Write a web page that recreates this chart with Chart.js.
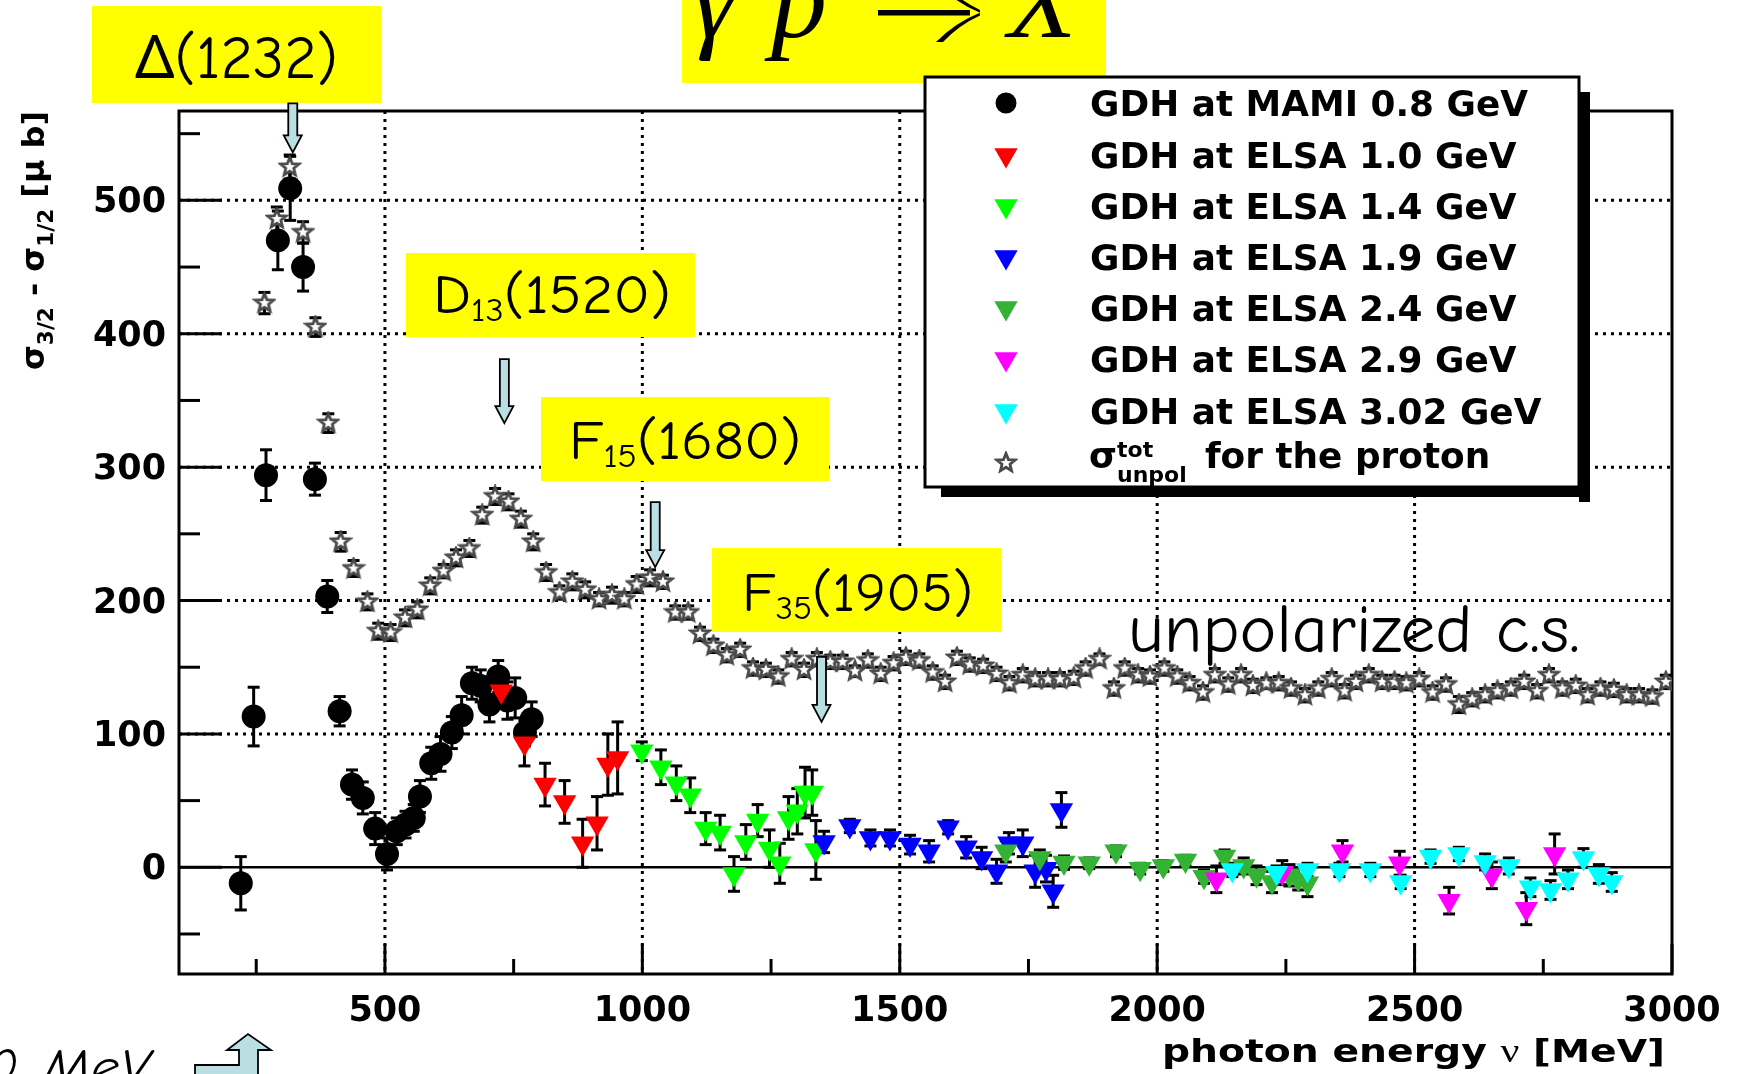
<!DOCTYPE html>
<html>
<head>
<meta charset="utf-8">
<script src="https://cdn.jsdelivr.net/npm/chart.js@4.4.1/dist/chart.umd.min.js"></script>
<style>
  html, body { margin: 0; padding: 0; background: #fff; }
  canvas { display: block; }
</style>
</head>
<body>
<canvas id="c" width="1740" height="1074"></canvas>
<script>
// ---- axis ticks ----
const xTickValues = [500, 1000, 1500, 2000, 2500, 3000];
const xMinorTicks = [250, 750, 1250, 1750, 2250, 2750];
const yTickValues = [0, 100, 200, 300, 400, 500];
const yMinorTicks = [-50, 50, 150, 250, 350, 450, 550];

// ---- GDH at MAMI 0.8 GeV : photon energy [MeV], sigma3/2 - sigma1/2 [mub], error ----
const mamiE   = [220, 245, 269, 292, 316, 341, 364, 388, 412, 436, 457, 481, 504, 523, 540, 556, 568, 590, 608, 630, 649, 669, 686, 703, 720, 738, 753, 772, 785];
const mamiV   = [-12, 113, 294, 470, 509, 450, 291, 203, 117, 62, 52, 29, 10, 27, 32, 37, 53, 78, 85, 101, 114, 138, 136, 122, 143, 125, 127, 101, 111];
const mamiErr = [20, 22, 19, 22, 24, 18, 12, 12, 11, 11, 12, 12, 12, 10, 10, 10, 12, 12, 13, 12, 14, 12, 12, 13, 12, 14, 15, 10, 13];

// ---- GDH at ELSA 1.0 GeV ----
const elsa10E   = [726, 771, 811, 849, 884, 912, 933, 952];
const elsa10V   = [132, 93, 62, 49, 18, 33, 77, 82];
const elsa10Err = [5, 17, 16, 16, 18, 20, 23, 27];

// ---- GDH at ELSA 1.4 GeV ----
const elsa14E   = [999, 1036, 1066, 1093, 1123, 1151, 1178, 1201, 1224, 1247, 1267, 1284, 1301, 1316, 1330, 1337];
const elsa14V   = [87, 75, 63, 54, 29, 26, -5, 19, 35, 14, 3, 37, 42, 56, 56, 13];
const elsa14Err = [7, 13, 13, 13, 12, 13, 13, 13, 12, 14, 15, 16, 17, 19, 17, 22];

// ---- GDH at ELSA 1.9 GeV ----
const elsa19E   = [1353, 1403, 1443, 1481, 1520, 1557, 1594, 1629, 1659, 1688, 1712, 1739, 1763, 1784, 1798, 1814];
const elsa19V   = [19, 31, 22, 22, 17, 12, 30, 15, 7, -3, 18, 18, -3, -1, -18, 43];
const elsa19Err = [8, 5, 6, 6, 7, 8, 5, 8, 8, 9, 8, 10, 12, 10, 12, 13];

// ---- GDH at ELSA 2.4 GeV ----
const elsa24E   = [1706, 1772, 1819, 1868, 1920, 1967, 2012, 2055, 2091, 2131, 2168, 2193, 2223, 2257, 2274, 2292];
const elsa24V   = [12, 7, 3.5, 3, 12, -1, 1, 5, -7, 8, 1, -6, -11, -6, -9, -12];
const elsa24Err = [8, 6, 5, 4, 4, 4, 4, 4, 5, 5, 6, 7, 8, 8, 8, 10];

// ---- GDH at ELSA 2.9 GeV ----
const elsa29E   = [2115, 2243, 2360, 2471, 2567, 2650, 2717, 2772];
const elsa29V   = [-9, -4, 12, 3, -25, -6, -31, 10];
const elsa29Err = [10, 9, 8, 9, 10, 10, 12, 15];

// ---- GDH at ELSA 3.02 GeV ----
const elsa302E   = [2146, 2232, 2292, 2354, 2414, 2473, 2531, 2586, 2637, 2683, 2725, 2764, 2798, 2828, 2858, 2883];
const elsa302V   = [-2, -4, -2, -2, -2, -11, 8, 10, 4, 1, -15, -17, -9, 7, -5, -11];
const elsa302Err = [5, 5, 5, 5, 5, 5, 5, 5, 6, 6, 7, 7, 7, 7, 7, 7];

// ---- total unpolarized photoabsorption cross section of the proton ----
const unpolE = [266, 290, 315, 341, 365, 390, 414, 439, 466, 487,
  511, 539, 563, 588, 614, 638, 664, 689, 714, 740,
  764, 788, 813, 839, 864, 889, 916, 941, 965, 989,
  1015, 1040, 1064, 1089, 1112, 1138, 1164, 1190, 1215, 1240,
  1264, 1290, 1314, 1339, 1365, 1389, 1413, 1438, 1463, 1488,
  1512, 1538, 1564, 1588, 1611, 1636, 1662, 1688, 1713, 1739,
  1763, 1788, 1811, 1838, 1861, 1888, 1916, 1937, 1963, 1986,
  2014, 2039, 2063, 2089, 2112, 2138, 2163, 2186, 2212, 2236,
  2260, 2287, 2313, 2339, 2364, 2386, 2411, 2437, 2461, 2484,
  2509, 2535, 2561, 2586, 2612, 2637, 2661, 2687, 2713, 2738,
  2761, 2787, 2813, 2836, 2861, 2887, 2912, 2936, 2962, 2988];
const unpolV = [423, 486, 525, 476, 405, 333, 244, 224, 199, 177,
  176, 187, 193, 211, 222, 232, 239, 264, 278, 274,
  261, 244, 221, 206, 214, 208, 201, 204, 201, 212,
  217, 214, 191, 191, 175, 166, 159, 163, 149, 148,
  143, 156, 148, 156, 154, 154, 147, 155, 145, 153,
  157, 155, 146, 139, 157, 152, 151, 145, 138, 144,
  141, 141, 141, 142, 149, 156, 134, 149, 144, 143,
  149, 143, 138, 131, 144, 137, 144, 136, 138, 138,
  134, 129, 134, 141, 132, 139, 144, 139, 139, 138,
  141, 131, 137, 122, 126, 129, 132, 134, 139, 132,
  144, 134, 136, 129, 134, 133, 129, 129, 128, 139];
const unpolErr = [8, 9, 9, 8, 7, 7, 7, 6, 6, 6,
  6, 6, 6, 6, 5, 6, 6, 6, 6, 6,
  6, 6, 6, 5, 6, 6, 5, 6, 5, 6,
  6, 5, 5, 5, 5, 5, 5, 5, 5, 5,
  5, 5, 5, 5, 5, 5, 4, 5, 5, 5,
  5, 5, 5, 5, 5, 5, 5, 5, 5, 5,
  5, 5, 5, 5, 5, 4, 5, 5, 5, 5,
  5, 5, 5, 5, 5, 5, 5, 5, 4, 5,
  5, 5, 5, 5, 5, 5, 5, 5, 5, 5,
  5, 5, 5, 6, 5, 5, 5, 5, 5, 5,
  5, 5, 5, 5, 5, 5, 5, 5, 5, 5];

// ---- resonance markers: energy of the arrow and value at its tip ----
const resonanceE   = [321, 732, 1025, 1348];
const resonanceTip = [536, 333, 225, 109];
const resonanceLen = [49, 64, 65, 65];

// open star used for the unpolarized cross section
function makeStar(size, outer, inner, stroke, lw) {
  const c = document.createElement('canvas');
  c.width = c.height = size;
  const g = c.getContext('2d');
  g.beginPath();
  for (let i = 0; i < 10; i++) {
    const r = i % 2 ? inner : outer;
    const a = -Math.PI / 2 + i * Math.PI / 5;
    g.lineTo(size / 2 + r * Math.cos(a), size / 2 + r * Math.sin(a));
  }
  g.closePath();
  g.fillStyle = '#fff';
  g.fill();
  g.strokeStyle = stroke;
  g.lineWidth = lw;
  g.stroke();
  return c;
}
const starImg = makeStar(24, 9.5, 4.2, '#4a4a4a', 2.8);

// drawing order: larger "order" is painted first (underneath)
const series = [
  { label: 'GDH at MAMI 0.8 GeV',  E: mamiE,    V: mamiV,    err: mamiErr,    color: '#000000', style: 'circle',   radius: 12,   rot: 0,   order: 9 },
  { label: 'GDH at ELSA 1.0 GeV',  E: elsa10E,  V: elsa10V,  err: elsa10Err,  color: '#ff0000', style: 'triangle', radius: 13.5, rot: 180, order: 8 },
  { label: 'GDH at ELSA 1.4 GeV',  E: elsa14E,  V: elsa14V,  err: elsa14Err,  color: '#00ff00', style: 'triangle', radius: 13.5, rot: 180, order: 7 },
  { label: 'GDH at ELSA 1.9 GeV',  E: elsa19E,  V: elsa19V,  err: elsa19Err,  color: '#0000ff', style: 'triangle', radius: 13.5, rot: 180, order: 6 },
  { label: 'GDH at ELSA 2.4 GeV',  E: elsa24E,  V: elsa24V,  err: elsa24Err,  color: '#33b233', style: 'triangle', radius: 13.5, rot: 180, order: 5 },
  { label: 'GDH at ELSA 2.9 GeV',  E: elsa29E,  V: elsa29V,  err: elsa29Err,  color: '#ff00ff', style: 'triangle', radius: 13.5, rot: 180, order: 4 },
  { label: 'GDH at ELSA 3.02 GeV', E: elsa302E, V: elsa302V, err: elsa302Err, color: '#00ffff', style: 'triangle', radius: 13.5, rot: 180, order: 3 },
  { label: 'for the proton',       E: unpolE,   V: unpolV,   err: unpolErr,   color: '#555555', style: starImg,    radius: 10,   rot: 0,   order: 10 }
];

const BLACK = '#000';
const ARROW_FILL = '#b9dfe3';
const COMIC = '"Comic Sans MS", "Comic Neue", "Noto Sans", sans-serif';
const BOLD = '"DejaVu Sans", "Liberation Sans", sans-serif';

function line(ctx, x1, y1, x2, y2) {
  ctx.beginPath(); ctx.moveTo(x1, y1); ctx.lineTo(x2, y2); ctx.stroke();
}

// text made of pieces with their own font and vertical offset, stretched to a width
function drawRich(ctx, parts, x, y, targetW) {
  let w = 0;
  for (const p of parts) { ctx.font = p.font; w += ctx.measureText(p.t).width + (p.gap || 0); }
  const sx = targetW ? targetW / w : 1;
  ctx.save();
  ctx.translate(x, y);
  ctx.scale(sx, 1);
  let cx = 0;
  for (const p of parts) {
    ctx.font = p.font;
    ctx.fillText(p.t, cx, p.dy || 0);
    cx += ctx.measureText(p.t).width + (p.gap || 0);
  }
  ctx.restore();
  return w * sx;
}

function downArrow(ctx, x, tipY, len) {
  const sw = 4.5, hw = 9, hl = 17;
  const top = tipY - len;
  ctx.beginPath();
  ctx.moveTo(x - sw, top);
  ctx.lineTo(x + sw, top);
  ctx.lineTo(x + sw, tipY - hl);
  ctx.lineTo(x + hw, tipY - hl);
  ctx.lineTo(x, tipY);
  ctx.lineTo(x - hw, tipY - hl);
  ctx.lineTo(x - sw, tipY - hl);
  ctx.closePath();
  ctx.fillStyle = ARROW_FILL;
  ctx.fill();
  ctx.strokeStyle = BLACK;
  ctx.lineWidth = 1.8;
  ctx.stroke();
}

// frame, grid, ticks and error bars under the markers
const framePlugin = {
  id: 'frame',
  beforeDatasetsDraw(chart) {
    const { ctx, chartArea: a, scales: { x, y } } = chart;
    ctx.save();
    ctx.strokeStyle = BLACK;

    // dotted grid
    ctx.lineWidth = 3;
    ctx.setLineDash([3, 5]);
    for (const v of xTickValues) {
      if (v >= x.max) continue;
      const px = x.getPixelForValue(v);
      line(ctx, px, a.top, px, a.bottom);
    }
    for (const v of yTickValues) {
      if (v === 0) continue;
      const py = y.getPixelForValue(v);
      line(ctx, a.left, py, a.right, py);
    }
    ctx.setLineDash([]);

    // zero line
    ctx.lineWidth = 2.5;
    const y0 = y.getPixelForValue(0);
    line(ctx, a.left, y0, a.right, y0);

    // tick marks (inside the frame)
    ctx.lineWidth = 3;
    for (const v of yTickValues) { const py = y.getPixelForValue(v); line(ctx, a.left, py, a.left + 43, py); }
    for (const v of yMinorTicks) { const py = y.getPixelForValue(v); line(ctx, a.left, py, a.left + 21, py); }
    for (const v of xTickValues) { const px = x.getPixelForValue(v); line(ctx, px, a.bottom, px, a.bottom - 30); }
    for (const v of xMinorTicks) { const px = x.getPixelForValue(v); line(ctx, px, a.bottom, px, a.bottom - 15); }

    // frame
    ctx.lineWidth = 3;
    ctx.strokeRect(a.left, a.top, a.right - a.left, a.bottom - a.top);

    // error bars
    ctx.beginPath();
    ctx.rect(a.left, a.top, a.right - a.left, a.bottom - a.top);
    ctx.clip();
    ctx.lineWidth = 3;
    chart.data.datasets.forEach((ds, di) => {
      const meta = chart.getDatasetMeta(di);
      const cap = 6;
      meta.data.forEach((el, i) => {
        const v = ds.data[i].y, e = ds.errors[i];
        const yt = y.getPixelForValue(v + e), yb = y.getPixelForValue(v - e);
        line(ctx, el.x, yt, el.x, yb);
        line(ctx, el.x - cap, yt, el.x + cap, yt);
        line(ctx, el.x - cap, yb, el.x + cap, yb);
      });
    });
    ctx.restore();
  }
};

// labels, resonance boxes, legend
const overlayPlugin = {
  id: 'overlay',
  afterDraw(chart) {
    const { ctx, scales: { x, y } } = chart;
    ctx.save();
    ctx.fillStyle = BLACK;
    ctx.textBaseline = 'alphabetic';
    ctx.textAlign = 'left';

    // axis titles
    ctx.save();
    ctx.translate(44, 370);
    ctx.rotate(-Math.PI / 2);
    ctx.fillStyle = BLACK;
    drawRich(ctx, [
      { t: 'σ', font: 'bold 31px ' + BOLD },
      { t: '3/2', font: 'bold 21px ' + BOLD, dy: 9 },
      { t: ' - ', font: 'bold 31px ' + BOLD },
      { t: 'σ', font: 'bold 31px ' + BOLD },
      { t: '1/2', font: 'bold 21px ' + BOLD, dy: 9 },
      { t: ' [μ b]', font: 'bold 31px ' + BOLD }
    ], 0, 0, 259);
    ctx.restore();

    drawRich(ctx, [
      { t: 'photon energy ', font: 'bold 32px ' + BOLD },
      { t: 'ν', font: '34px "Liberation Serif", serif' },
      { t: ' [MeV]', font: 'bold 32px ' + BOLD }
    ], 1162, 1062, 503);

    // reaction title
    ctx.fillStyle = '#ffff00';
    ctx.fillRect(682, 0, 424, 83);
    ctx.fillStyle = BLACK;
    ctx.font = 'italic 112px "Liberation Serif", serif';
    ctx.fillText('γ', 692, 37);
    ctx.fillText('p', 771, 37);
    ctx.fillText('X', 1008, 37);
    // reaction arrow
    ctx.strokeStyle = BLACK;
    ctx.lineWidth = 5.5;
    line(ctx, 878, 12.7, 970, 12.7);
    ctx.beginPath();
    ctx.moveTo(980, 12.7);
    ctx.quadraticCurveTo(956, 22, 936, 42);
    ctx.lineTo(943, 42);
    ctx.quadraticCurveTo(959, 25, 980, 15.5);
    ctx.closePath();
    ctx.fill();
    ctx.beginPath();
    ctx.moveTo(980, 12.7);
    ctx.quadraticCurveTo(956, 3, 936, -17);
    ctx.lineTo(943, -17);
    ctx.quadraticCurveTo(959, 0, 980, 10);
    ctx.closePath();
    ctx.fill();

    // resonance labels
    const boxes = [
      { bx: 92,  by: 6,   bw: 289, bh: 97, tx: 135, ty: 78,  tw: 203, parts: [{ t: 'Δ(1232)', font: '60px ' + COMIC }] },
      { bx: 406, by: 253, bw: 289, bh: 84, tx: 433, ty: 313, tw: 238, parts: [{ t: 'D', font: '55px ' + COMIC }, { t: '13', font: '33px ' + COMIC, dy: 8 }, { t: '(1520)', font: '55px ' + COMIC }] },
      { bx: 541, by: 397, bw: 288, bh: 84, tx: 569, ty: 459, tw: 232, parts: [{ t: 'F', font: '55px ' + COMIC }, { t: '15', font: '33px ' + COMIC, dy: 8 }, { t: '(1680)', font: '55px ' + COMIC }] },
      { bx: 712, by: 548, bw: 289, bh: 84, tx: 742, ty: 611, tw: 231, parts: [{ t: 'F', font: '55px ' + COMIC }, { t: '35', font: '33px ' + COMIC, dy: 8 }, { t: '(1905)', font: '55px ' + COMIC }] }
    ];
    for (const b of boxes) {
      ctx.fillStyle = '#ffff00';
      ctx.fillRect(b.bx, b.by, b.bw, b.bh);
      ctx.fillStyle = BLACK;
      drawRich(ctx, b.parts, b.tx, b.ty, b.tw);
    }

    // resonance arrows
    resonanceE.forEach((e, i) => {
      downArrow(ctx, x.getPixelForValue(e), y.getPixelForValue(resonanceTip[i]), resonanceLen[i]);
    });

    // note on the unpolarized data
    ctx.fillStyle = BLACK;
    drawRich(ctx, [{ t: 'unpolarized c.s.', font: '68px ' + COMIC }], 1128, 652, 452);

    // lower left note with bent arrow
    ctx.font = 'italic 50px ' + COMIC;
    ctx.fillText('0', -13, 1084);
    drawRich(ctx, [{ t: 'MeV', font: 'italic 50px ' + COMIC }], 43, 1084, 107);
    ctx.beginPath();
    ctx.moveTo(195, 1080); ctx.lineTo(195, 1065); ctx.lineTo(239, 1065); ctx.lineTo(239, 1050);
    ctx.lineTo(227, 1050); ctx.lineTo(248, 1034); ctx.lineTo(271, 1050); ctx.lineTo(258, 1050);
    ctx.lineTo(258, 1080); ctx.closePath();
    ctx.fillStyle = ARROW_FILL; ctx.fill();
    ctx.strokeStyle = BLACK; ctx.lineWidth = 1.8; ctx.stroke();

    // legend
    const L = { x: 925, y: 77, w: 654, h: 410 };
    ctx.fillStyle = BLACK;
    ctx.fillRect(L.x + L.w, L.y + 15, 11, L.h);
    ctx.fillRect(L.x + 16, L.y + L.h, L.w + 11 - 16, 10);
    ctx.fillStyle = '#fff';
    ctx.fillRect(L.x, L.y, L.w, L.h);
    ctx.strokeStyle = BLACK; ctx.lineWidth = 3;
    ctx.strokeRect(L.x, L.y, L.w, L.h);

    const rowY = [103, 155, 206, 257, 308, 359, 411, 463];
    const baseY = [116, 168, 219, 270, 321, 372, 424, 468];
    const LEG_FONT = 'bold 35px ' + BOLD;
    ctx.font = LEG_FONT;
    const legScale = 438 / ctx.measureText(series[0].label).width;
    chart.data.datasets.forEach((ds, i) => {
      ctx.fillStyle = series[i].color;
      ctx.strokeStyle = series[i].color;
      const r = series[i].style === 'circle' ? 10.5 : (series[i].style === 'triangle' ? 13.5 : ds.pointRadius);
      Chart.helpers.drawPoint(ctx, { pointStyle: ds.pointStyle, radius: r, rotation: ds.pointRotation, borderWidth: 0 }, 1006, rowY[i]);
      ctx.fillStyle = BLACK;
      if (i < series.length - 1) {
        ctx.save();
        ctx.translate(1090, baseY[i]);
        ctx.scale(legScale, 1);
        ctx.font = LEG_FONT;
        ctx.fillText(ds.label, 0, 0);
        ctx.restore();
      }
    });
    // the cross-section entry carries sub- and superscripts
    ctx.fillStyle = BLACK;
    ctx.font = 'bold 36px ' + BOLD;
    ctx.fillText('σ', 1089, 468);
    ctx.font = 'bold 22px ' + BOLD;
    ctx.fillText('tot', 1117, 457);
    ctx.fillText('unpol', 1117, 482);
    ctx.save();
    ctx.translate(1205, 468);
    ctx.scale(legScale, 1);
    ctx.font = LEG_FONT;
    ctx.fillText(series[series.length - 1].label, 0, 0);
    ctx.restore();

    ctx.restore();
  }
};

const chart = new Chart(document.getElementById('c'), {
  type: 'scatter',
  data: {
    datasets: series.map(s => ({
      label: s.label,
      data: s.E.map((e, i) => ({ x: e, y: s.V[i] })),
      errors: s.err,
      order: s.order,
      pointStyle: s.style,
      pointRadius: s.radius,
      pointHoverRadius: s.radius,
      pointRotation: s.rot,
      backgroundColor: s.color,
      borderColor: s.color,
      borderWidth: 0,
      showLine: false
    }))
  },
  options: {
    responsive: false,
    animation: false,
    devicePixelRatio: 1,
    events: [],
    layout: { padding: { left: 0, top: 111, right: 68, bottom: 0 } },
    plugins: { legend: { display: false }, tooltip: { enabled: false } },
    scales: {
      x: {
        type: 'linear', min: 100, max: 3000,
        grid: { display: false, drawTicks: false },
        border: { display: false },
        afterBuildTicks: s => { s.ticks = xTickValues.map(v => ({ value: v })); },
        afterFit: s => { s.height = 100; },
        ticks: { padding: 17, color: BLACK, maxRotation: 0, autoSkip: false,
                 font: { family: BOLD, weight: 'bold', size: 35 }, callback: v => String(v) }
      },
      y: {
        type: 'linear', min: -80, max: 567,
        grid: { display: false, drawTicks: false },
        border: { display: false },
        afterBuildTicks: s => { s.ticks = yTickValues.map(v => ({ value: v })); },
        afterFit: s => { s.width = 179; },
        ticks: { padding: 13, labelOffset: 3, color: BLACK, autoSkip: false,
                 font: { family: BOLD, weight: 'bold', size: 35 }, callback: v => String(v) }
      }
    }
  },
  plugins: [framePlugin, overlayPlugin]
});
</script>
</body>
</html>
